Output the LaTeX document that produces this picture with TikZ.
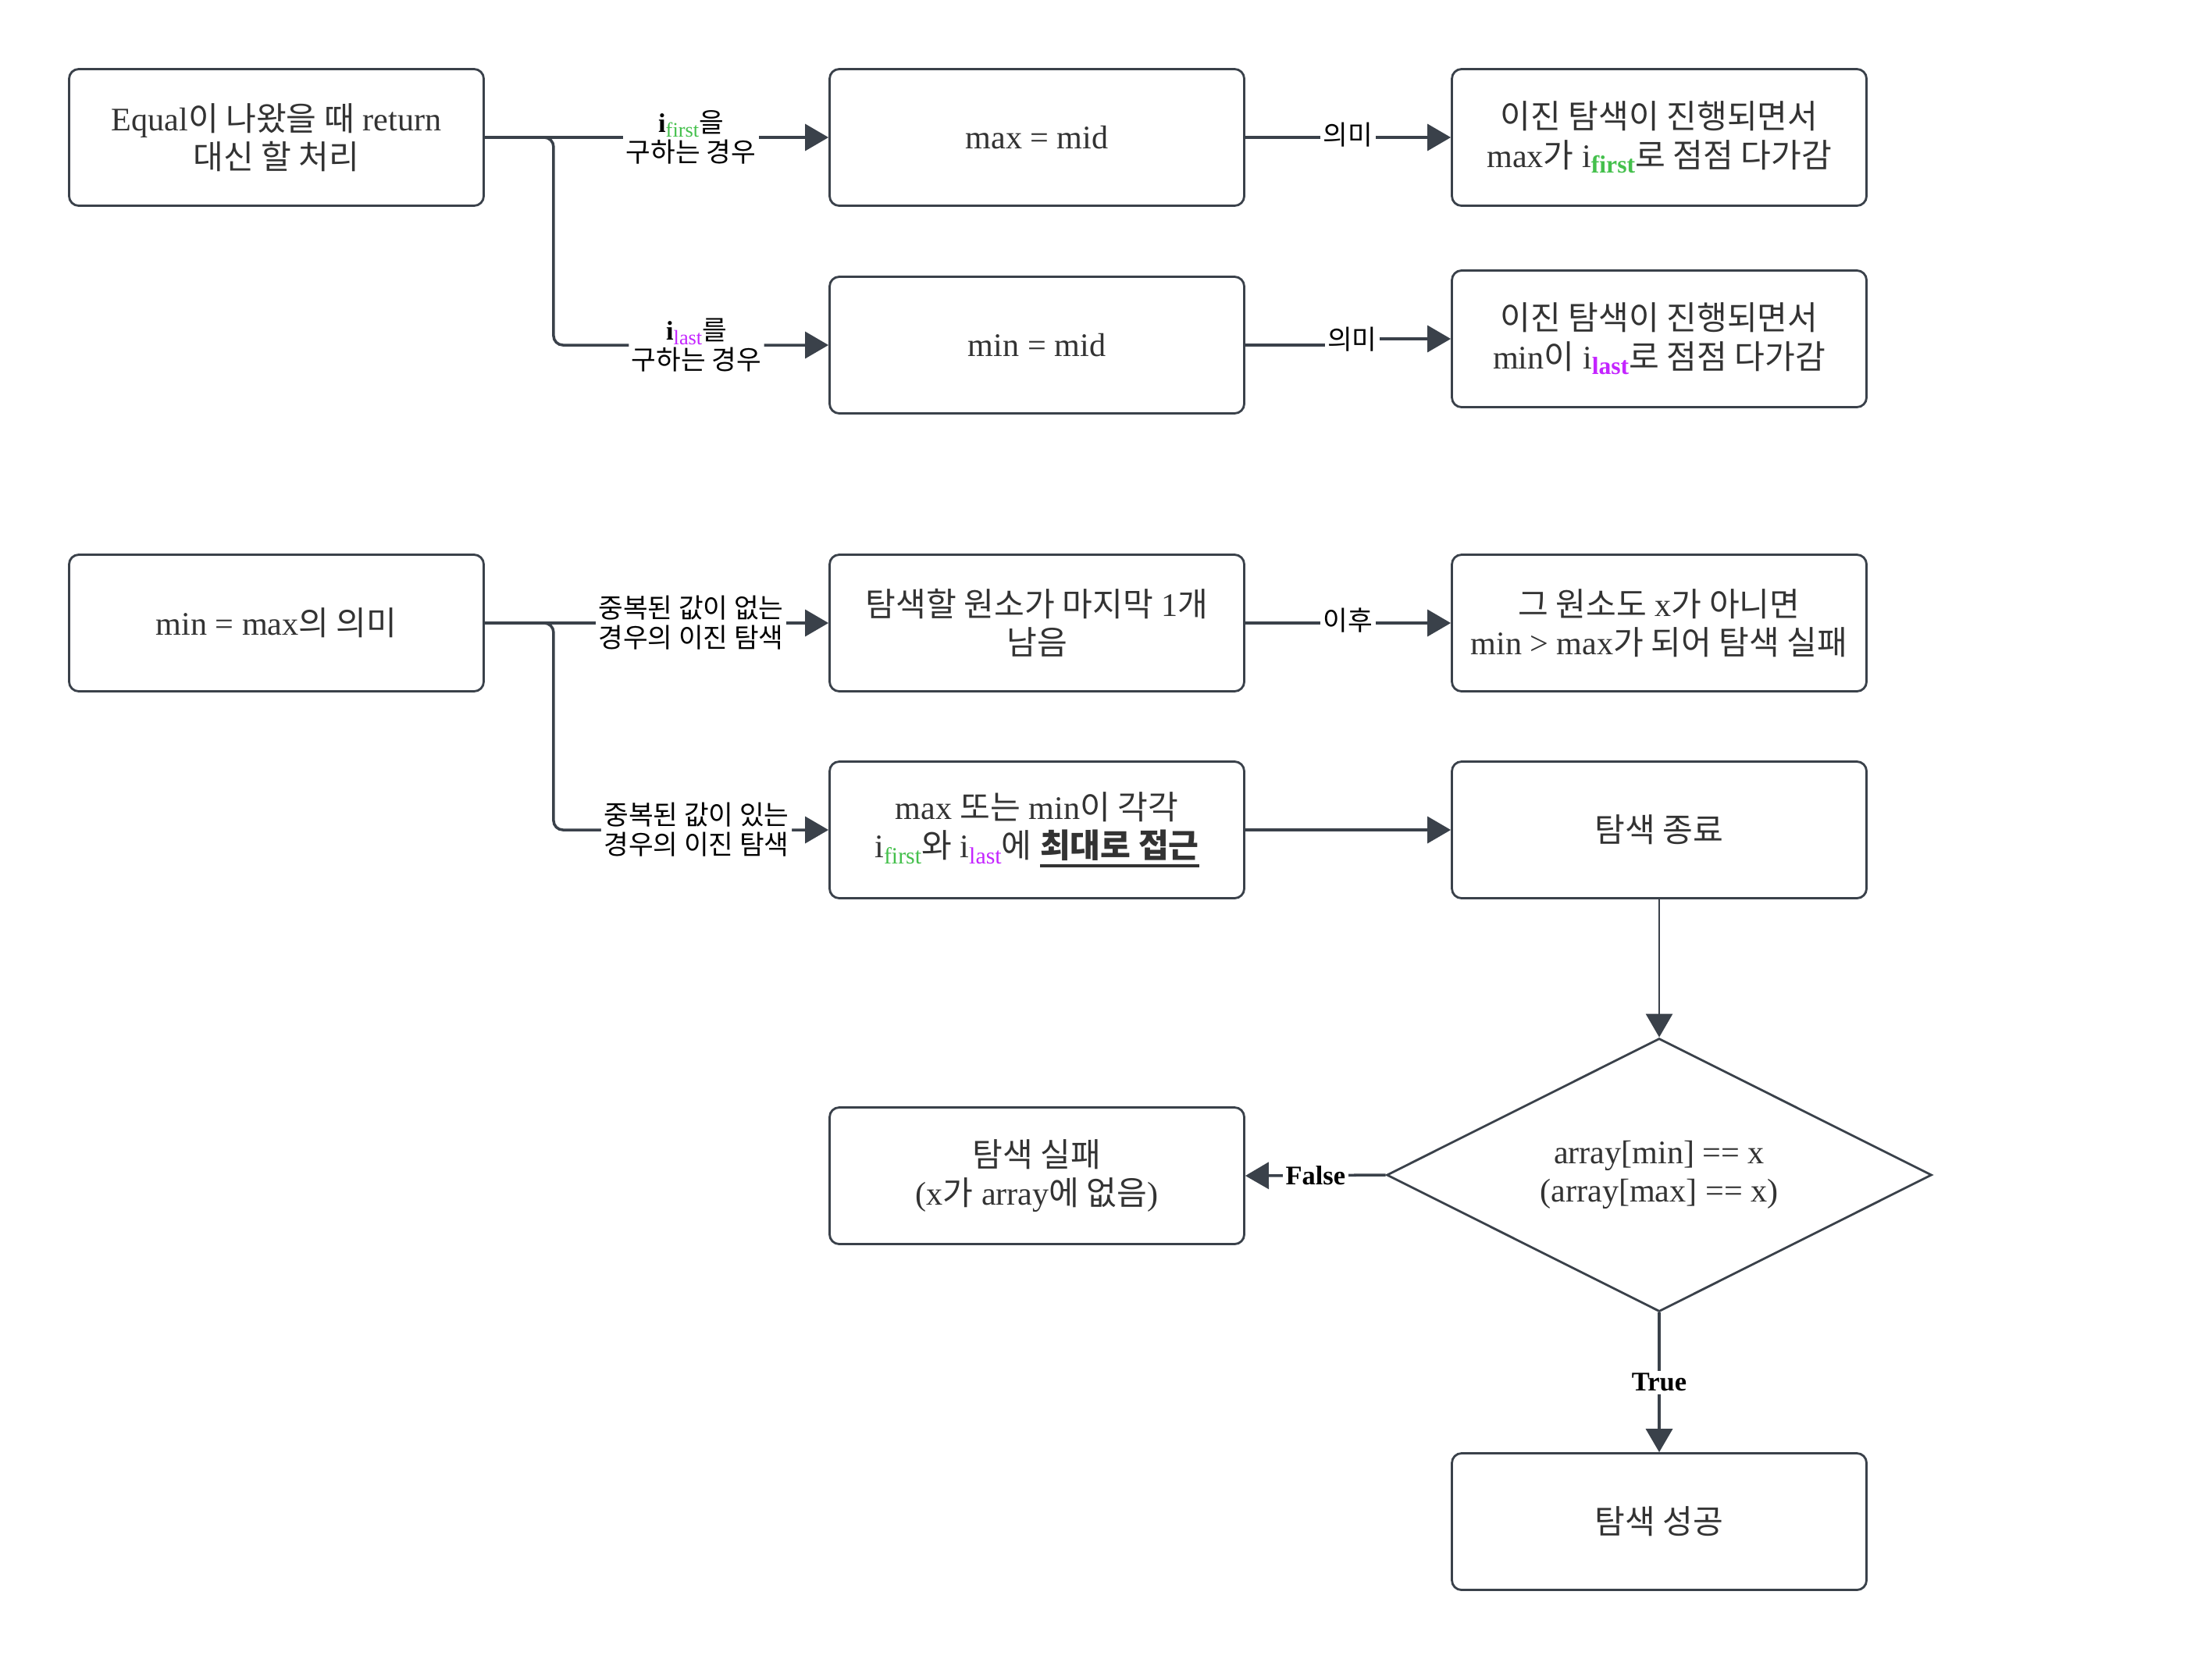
\documentclass[tikz,border=0pt]{standalone}
\usepackage{fontspec}
\setmainfont{Liberation Serif}
\newfontfamily\krfont{Noto Sans CJK KR}
\usetikzlibrary{arrows.meta,shapes.geometric,calc}
\definecolor{ln}{HTML}{3A414A}
\definecolor{tx}{HTML}{333333}
\definecolor{gr}{HTML}{44C04C}
\definecolor{pu}{HTML}{C425FF}
\newcommand\kt[1]{{\krfont #1}}
\newcommand\bsub[3]{\raisebox{-0.4ex}{\fontsize{#3}{#3}\selectfont\color{#1}#2}}
\newcommand\myuline[1]{\setbox0\hbox{#1}\rlap{\raisebox{-3.5pt}{\color{tx}\rule{\wd0}{1.1pt}}}\box0}
\tikzset{
  box/.style={draw=ln, line width=0.8pt, rounded corners=3.5pt, minimum width=5.31cm, minimum height=1.75cm, align=center, text=tx, font=\fontsize{12}{14}\selectfont, inner sep=0pt},
  lbl/.style={fill=white, inner sep=1pt, align=center, font=\fontsize{9.8}{10.8}\selectfont, text=black},
  conn/.style={draw=ln, line width=1pt, -{Triangle[length=0.3cm,width=0.34cm]}},
}
\begin{document}
\begin{tikzpicture}
\useasboundingbox (0,0) rectangle (28.33,-21.24);
\fill[white] (0,0) rectangle (28.33,-21.24);

\node[box] (A1) at (3.54,-1.76) {Equal\kt{이 나왔을 때} return\\\kt{대신 할 처리}};
\node[box] (B1) at (13.28,-1.76) {max = mid};
\node[box] (C1) at (21.25,-1.76) {\kt{이진 탐색이 진행되면서}\\max\kt{가} i\bsub{gr}{\bfseries first}{9}\kt{로 점점 다가감}};
\node[box] (B2) at (13.28,-4.42) {min = mid};
\node[box] (C2) at (21.25,-4.34) {\kt{이진 탐색이 진행되면서}\\min\kt{이} i\bsub{pu}{\bfseries last}{9}\kt{로 점점 다가감}};

\node[box] (A3) at (3.54,-7.98) {min = max\kt{의 의미}};
\node[box] (B3) at (13.28,-7.98) {\kt{탐색할 원소가 마지막} 1\kt{개}\\\kt{남음}};
\node[box] (C3) at (21.25,-7.98) {\kt{그 원소도} x\kt{가 아니면}\\min > max\kt{가 되어 탐색 실패}};
\node[box] (B4) at (13.28,-10.63) {max \kt{또는} min\kt{이 각각}\\i\bsub{gr}{first}{8.5}\kt{와} i\bsub{pu}{last}{8.5}\kt{에} \myuline{\kt{\bfseries 최대로 접근}}};
\node[box] (C4) at (21.25,-10.63) {\kt{탐색 종료}};

\node[draw=ln, line width=0.8pt, diamond, aspect=2, minimum width=6.98cm, minimum height=3.5cm, inner sep=0pt, align=center, text=tx, font=\fontsize{12}{14}\selectfont] (D) at (21.25,-15.05) {array[min] == x\\(array[max] == x)};
\node[box] (F) at (13.28,-15.06) {\kt{탐색 실패}\\(x\kt{가} array\kt{에 없음})};
\node[box] (S) at (21.25,-19.49) {\kt{탐색 성공}};

% connectors
\draw[conn] (A1.east) -- node[lbl, pos=0.6] {\textbf{i}\bsub{gr}{first}{7.5}\kt{을}\\\kt{구하는 경우}} (B1.west);
\draw[conn, rounded corners=0.12cm] (A1.east) -- ++(0.88,0) |- node[lbl, pos=0.76] {\textbf{i}\bsub{pu}{last}{7.5}\kt{를}\\\kt{구하는 경우}} (B2.west);
\draw[conn] (B1.east) -- node[lbl, yshift=1pt] {\kt{의미}} (C1.west);
\coordinate (m2) at ($(B2.east)!0.52!(C2.west)$);
\draw[conn] (B2.east) -- (B2.east -| m2) -- node[lbl, yshift=1pt] {\kt{의미}} (C2.west -| m2) -- (C2.west);

\draw[conn] (A3.east) -- node[lbl, pos=0.6] {\kt{중복된 값이 없는}\\\kt{경우의 이진 탐색}} (B3.west);
\draw[conn, rounded corners=0.12cm] (A3.east) -- ++(0.88,0) |- node[lbl, pos=0.76] {\kt{중복된 값이 있는}\\\kt{경우의 이진 탐색}} (B4.west);
\draw[conn] (B3.east) -- node[lbl, yshift=1pt] {\kt{이후}} (C3.west);
\draw[conn] (B4.east) -- (C4.west);
\draw[conn, line width=0.8pt] (C4.south) -- (D.north);
\draw[conn] (D.west) -- node[lbl] {\textbf{False}} (F.east);
\draw[conn] (D.south) -- node[lbl] {\textbf{True}} (S.north);
\end{tikzpicture}
\end{document}
